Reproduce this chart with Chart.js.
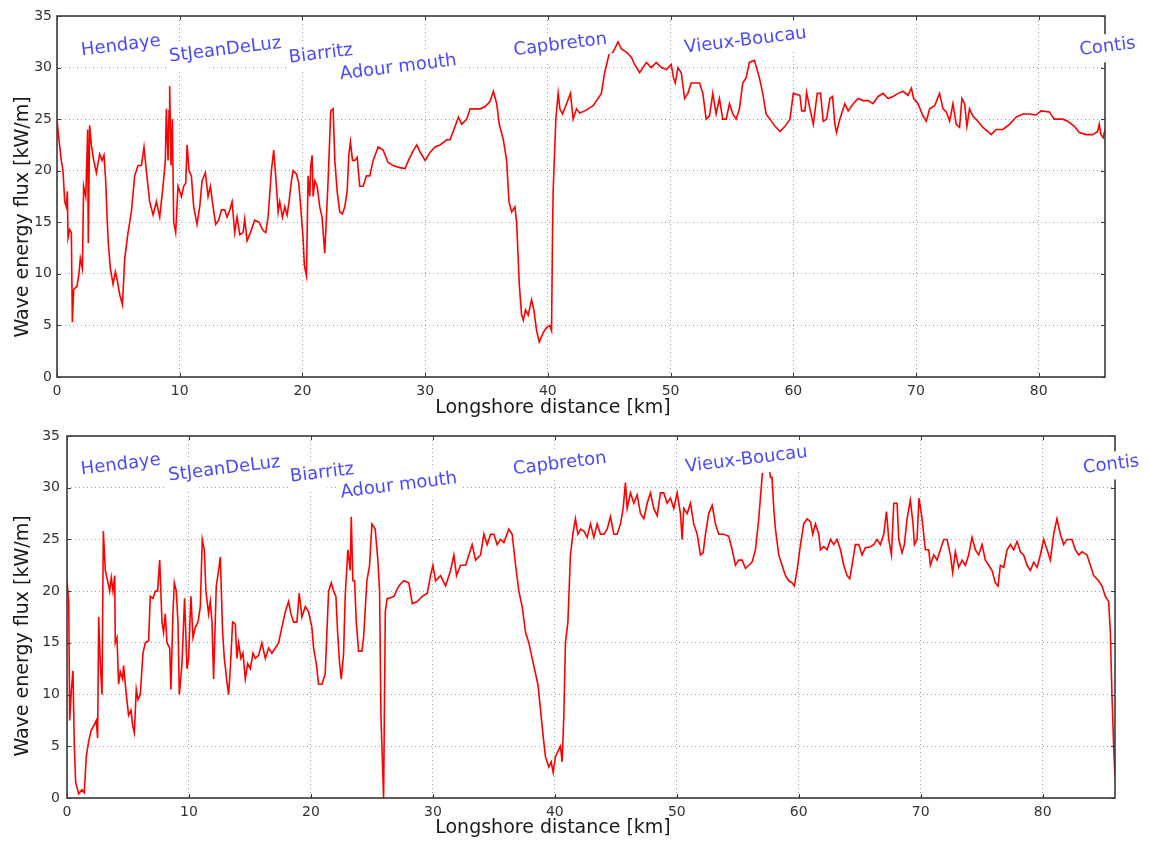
<!DOCTYPE html>
<html>
<head>
<meta charset="utf-8">
<script src="https://cdn.jsdelivr.net/npm/chart.js@4.4.1/dist/chart.umd.min.js"></script>
<style>
  html, body { margin: 0; padding: 0; background: #fff; }
  .panel { position: absolute; left: 0; width: 1150px; }
</style>
</head>
<body>
<div class="panel" style="top:0;height:420px"><canvas id="topChart" width="1150" height="420"></canvas></div>
<div class="panel" style="top:420px;height:421px"><canvas id="bottomChart" width="1150" height="421"></canvas></div>
<script>
// place names written along the coast
var placeNames = ['Hendaye', 'StJeanDeLuz', 'Biarritz', 'Adour mouth', 'Capbreton', 'Vieux-Boucau', 'Contis'];

// upper panel: longshore distance (km) and wave energy flux (kW/m)
var topKm = [0.00,0.16,0.35,0.49,0.63,0.76,0.84,0.90,1.03,1.17,1.25,1.36,1.63,1.79,1.90,2.07,2.17,2.34,2.42,2.50,2.55,2.66,2.80,2.99,3.21,3.48,3.67,3.83,3.97,4.08,4.18,4.35,4.57,4.76,4.89,5.11,5.33,5.52,5.79,6.06,6.33,6.60,6.88,7.09,7.28,7.55,7.83,8.10,8.37,8.64,8.83,8.91,9.05,9.13,9.18,9.29,9.40,9.51,9.67,9.86,10.14,10.33,10.49,10.60,10.76,10.95,11.14,11.41,11.63,11.82,12.09,12.31,12.50,12.72,12.93,13.18,13.40,13.67,13.86,14.08,14.27,14.48,14.67,14.89,15.16,15.30,15.49,15.76,16.11,16.47,16.79,17.01,17.20,17.47,17.66,17.88,18.02,18.15,18.37,18.56,18.75,18.91,19.10,19.24,19.51,19.70,19.86,20.05,20.16,20.33,20.46,20.60,20.68,20.79,20.87,21.01,21.20,21.41,21.60,21.82,22.09,22.31,22.50,22.64,22.83,23.04,23.26,23.45,23.64,23.78,23.91,24.08,24.27,24.46,24.67,24.95,25.22,25.49,25.76,26.17,26.58,26.98,27.39,27.93,28.37,28.64,29.05,29.32,29.59,30.00,30.41,30.81,31.22,31.76,32.03,32.44,32.71,32.98,33.39,33.66,34.07,34.47,34.88,35.28,35.56,35.83,36.04,36.37,36.64,36.83,37.05,37.32,37.45,37.51,37.67,37.86,38.00,38.18,38.40,38.67,38.86,39.08,39.30,39.62,39.89,40.16,40.30,40.38,40.43,40.65,40.84,40.98,41.19,41.52,41.84,42.06,42.33,42.60,43.01,43.28,43.69,44.09,44.36,44.63,44.99,45.31,45.72,45.99,46.40,46.80,47.07,47.48,48.02,48.43,48.83,49.24,49.65,50.05,50.24,50.38,50.60,50.87,51.14,51.41,51.68,52.09,52.36,52.63,52.90,53.17,53.44,53.71,53.98,54.25,54.53,54.80,55.07,55.34,55.61,55.88,56.15,56.42,56.83,57.24,57.51,57.78,58.10,58.51,58.92,59.32,59.73,60.00,60.54,60.68,60.95,61.08,61.36,61.63,61.95,62.22,62.44,62.71,62.98,63.20,63.39,63.52,63.79,64.20,64.47,64.88,65.28,65.69,66.10,66.50,66.91,67.32,67.72,68.13,68.54,68.94,69.35,69.62,69.81,70.16,70.57,70.84,71.11,71.52,71.92,72.20,72.47,72.74,73.01,73.28,73.55,73.74,73.96,74.15,74.36,74.63,75.04,75.45,75.85,76.12,76.53,77.07,77.62,78.16,78.70,79.24,79.78,80.19,80.87,81.27,81.95,82.36,82.90,83.31,83.85,84.39,84.80,84.93,85.07,85.26,85.40];
var topFlux = [24.9,23,21,20,17,16.5,18,13.5,14.3,14,5.3,8.5,8.8,10,11.5,10.5,18.5,17.5,20.5,24,13,24.4,22.5,21,19.8,21.6,21,21.5,19,15.5,13,10.5,9,10.2,9.5,8,7,11.5,14,16,19.5,20.5,20.5,22.3,20,17,15.7,17,15.5,18.5,21,26,21,25.8,28.2,20.5,25,15,14,18.5,17.5,18.5,18.8,22.5,20,19.5,16.5,14.8,16.5,19,19.8,17.5,18.5,16.5,14.8,15.2,16.2,16.2,15.5,16.2,17,14,15.5,13.8,14,15.3,13.2,14,15.2,15,14.2,14,15.5,20,22,18.5,16,17,15.5,16.5,15.7,17,19,20,19.7,18.8,16.5,13.5,10.8,9.8,19.5,17.5,20.5,21.5,17.5,19,18.5,16.5,15.5,12,19,25.8,26,21,18,16,15.8,16.5,18,21.5,22.8,21,21,21.3,18.5,18.5,19.5,19.5,21,22.3,22,20.8,20.5,20.3,20.2,21,22,22.5,21.8,21,21.8,22.3,22.5,23,23,24.3,25.2,24.5,25,26,26,26,26.2,26.7,27.7,26.5,24.5,23,21,17,16,16.5,15,13.5,9,6,5.5,6.5,6,7.5,6.5,4.5,3.4,4.3,4.8,5,4.5,14,18,25,27.5,26,25.5,26.5,27.5,25,26,25.6,25.8,26,26.3,27,27.5,29.5,31.3,31.5,32.5,31.8,31.5,31,30.3,29.5,30.5,30,30.5,30,29.8,30.3,29,28.5,30,29.5,27,27.5,28.5,28.5,28.5,27.5,25,25.3,27.5,25.5,27,25,25,26.5,25.5,25,26,28.5,29,30.5,30.7,29,27.5,25.5,25,24.3,23.8,24.3,25,27.5,27.3,25.8,25.8,27.6,26,24.5,27.5,27.5,24.8,25,27,27.2,24.5,23.7,25,26.5,25.8,26.5,27,26.8,26.8,26.5,27.2,27.5,27,27.2,27.5,27.7,27.3,28,27,26.5,25.3,24.8,26,26.3,27.5,26,25.7,24.8,26.5,24.5,24.2,27,26.5,24.3,26,25.3,24.8,24.2,23.8,23.5,24,24,24.5,25.2,25.5,25.5,25.4,25.8,25.7,25,25,24.8,24.3,23.7,23.5,23.5,23.8,24.5,23.5,23.2,24];

// lower panel
var bottomKm = [0.00,0.14,0.22,0.36,0.49,0.60,0.71,0.96,1.23,1.42,1.58,1.78,1.97,2.19,2.40,2.51,2.60,2.73,2.87,2.98,3.14,3.33,3.50,3.63,3.77,3.91,3.96,4.10,4.23,4.37,4.56,4.64,4.86,5.05,5.25,5.38,5.52,5.68,5.82,6.01,6.23,6.42,6.69,6.83,7.05,7.24,7.43,7.60,7.79,7.92,8.06,8.20,8.42,8.52,8.69,8.80,8.96,9.10,9.21,9.43,9.64,9.84,9.97,10.16,10.33,10.52,10.74,10.93,11.09,11.26,11.39,11.61,11.75,11.89,12.02,12.24,12.43,12.57,12.76,12.90,13.11,13.25,13.39,13.58,13.80,13.93,14.07,14.26,14.43,14.62,14.81,15.03,15.25,15.44,15.71,15.98,16.26,16.53,16.80,17.08,17.35,17.62,17.90,18.17,18.36,18.58,18.85,19.04,19.26,19.54,19.81,20.08,20.22,20.44,20.63,20.90,21.17,21.45,21.67,21.86,22.05,22.19,22.35,22.49,22.68,22.81,23.03,23.22,23.31,23.44,23.58,23.72,23.91,24.18,24.32,24.59,24.81,25.00,25.27,25.49,25.63,25.74,25.96,26.10,26.25,26.39,26.80,27.21,27.62,28.03,28.31,28.72,29.13,29.54,29.81,30.00,30.22,30.63,31.04,31.45,31.72,31.94,32.27,32.68,32.95,33.22,33.50,33.91,34.18,34.45,34.73,35.00,35.27,35.55,35.82,36.23,36.50,36.78,37.05,37.32,37.60,37.87,38.14,38.33,38.61,38.83,39.04,39.23,39.51,39.70,39.86,40.05,40.33,40.46,40.60,40.74,40.87,41.07,41.28,41.50,41.69,41.89,42.10,42.38,42.65,42.92,43.20,43.47,43.74,44.02,44.29,44.56,44.84,45.11,45.38,45.60,45.79,45.93,46.20,46.48,46.75,47.02,47.30,47.57,47.84,48.11,48.39,48.66,48.93,49.21,49.48,49.75,50.03,50.30,50.44,50.57,50.85,51.12,51.39,51.67,51.94,52.16,52.35,52.62,52.90,53.17,53.44,53.85,54.26,54.54,54.81,55.08,55.36,55.63,55.90,56.17,56.45,56.72,56.99,57.20,57.45,57.68,57.81,57.95,58.09,58.36,58.63,58.91,59.18,59.45,59.64,59.86,60.14,60.41,60.68,60.96,61.15,61.37,61.64,61.78,62.05,62.32,62.60,62.87,63.14,63.42,63.69,63.96,64.18,64.37,64.64,64.92,65.19,65.46,65.87,66.15,66.42,66.69,66.97,67.19,67.38,67.60,67.79,68.06,68.20,68.47,68.66,68.88,69.15,69.37,69.48,69.70,69.86,70.11,70.38,70.66,70.79,71.07,71.34,71.61,71.89,72.16,72.43,72.62,72.84,73.11,73.39,73.66,73.93,74.21,74.48,74.75,75.03,75.30,75.57,75.85,76.12,76.34,76.53,76.80,77.08,77.35,77.62,77.90,78.17,78.44,78.72,78.99,79.26,79.54,79.81,80.08,80.36,80.63,80.90,81.17,81.45,81.72,81.99,82.40,82.68,82.95,83.22,83.63,83.91,84.18,84.59,84.86,85.14,85.41,85.55,85.68,85.82,85.93];
var bottomFlux = [21,19,7.5,10.5,12.3,5,1.5,0.4,0.8,0.5,4,5.5,6.5,7,7.5,5.8,17.5,13,10,25.8,22,21,20,21.3,20,21.5,15,15.5,11,12.2,11.5,12.8,10,8,8.5,7,6.3,10.5,9.5,10,14,15,15.2,19.5,19.3,20,20,23,17,16,17.8,15,14.5,10.5,18,20.8,20,17,10,13,19.3,12.5,13.5,19.5,15.5,16.5,17,18.5,25,24,20,17.8,19,17,11.5,20.5,22,23.3,16,13.5,11.3,10,12.5,17,16.8,13.5,15,13.5,14,11.5,13,12.5,14,13.5,13.8,15,13.5,14.5,14,14.5,15,16.5,18,19,17.8,17,17,19.8,17.5,18.5,18,16.5,14.5,13,11,11,12,20,20.8,20,19.5,16,13,11.5,14,19.5,24,22,27.2,21,21,17,14.2,14.2,15.5,21,22.5,26.5,26,23,20,8,0,18,19.3,19.3,19.5,20.5,21,20.8,18.8,19,19.5,19.8,21.5,22.5,21,21.5,20.5,22,23.5,21.5,22.5,22.5,23.5,24.5,23,23.5,25.5,24.5,25.5,25.5,24.5,25,24.7,26,25.5,22.5,20,18.5,16,15,13.5,12.5,11,8.5,6,4,3,3.5,2.5,4,4.7,5,3.5,8,15,17,23.5,25.7,27,25.5,26,25.8,25.2,26.5,25.2,26.5,25.5,25.5,26,27.2,25.5,25.5,26.5,28,30.5,28,29.5,28.5,29.3,27.5,27,28.5,29.5,28,27.3,29.5,29.5,28.5,29,28,29.5,27.5,25,28,27.5,28.5,26.5,25.5,23.5,23.7,25.5,27.5,28.3,26.5,25.5,25.5,25.3,24,22.5,23,23,22.2,22.5,22.8,24,27,31,33.5,33,31,31,28,26,23.5,22.5,21.5,21,20.8,20.5,22,24.5,26.5,27,26.7,25.5,26.5,25.5,24,24.3,24,25,24.5,25,24,22.5,21.5,21.2,22.5,24.5,24.5,23.5,24.2,24.3,24.5,25,24.5,25.5,27.7,25,23.5,28.5,28.5,25,23.7,24.5,27,28.8,26.5,24.5,25,29,27,24,24,22.5,23.5,23,24,25,25,23.5,21.8,23.8,22.3,23,22.5,23.5,25.2,24,23.5,24.5,23,22.5,22,20.8,20.5,22.5,22.3,24,24.5,24,24.8,23.8,23.5,22.5,22,22.8,22.3,23.5,25,24,23,25.5,27,25.5,24.5,25,25,24,23.5,23.8,23.5,22.5,21.5,21,20.5,19.5,19,16,10,5,2];

// where each place name sits, in data units of each panel
var topLabelKm = [5.2, 13.7, 21.5, 27.8, 41.0, 56.1, 85.6];
var topLabelFlux = [32.2, 31.8, 31.4, 30.1, 32.3, 32.7, 32.1];
var bottomLabelKm = [4.4, 12.9, 20.9, 27.2, 40.4, 55.7, 85.6];
var bottomLabelFlux = [32.3, 31.9, 31.5, 30.3, 32.4, 32.8, 32.3];

var FONT = "'DejaVu Sans', sans-serif";

var decorPlugin = {
    id: 'decor',
    afterDatasetsDraw: function (chart, args, opts) {
        var ctx = chart.ctx;
        var a = chart.chartArea;
        var xs = chart.scales.x;
        var ys = chart.scales.y;

        // frame and inward ticks like matplotlib
        ctx.save();
        ctx.strokeStyle = '#3a3a3a';
        ctx.lineWidth = 1;
        ctx.beginPath();
        xs.ticks.forEach(function (t) {
            var px = Math.round(xs.getPixelForValue(t.value)) + 0.5;
            ctx.moveTo(px, a.bottom); ctx.lineTo(px, a.bottom - 4);
            ctx.moveTo(px, a.top); ctx.lineTo(px, a.top + 4);
        });
        ys.ticks.forEach(function (t) {
            var py = Math.round(ys.getPixelForValue(t.value)) + 0.5;
            ctx.moveTo(a.left, py); ctx.lineTo(a.left + 4, py);
            ctx.moveTo(a.right, py); ctx.lineTo(a.right - 4, py);
        });
        ctx.stroke();
        ctx.lineWidth = 1.6;
        ctx.strokeRect(a.left, a.top, a.right - a.left, a.bottom - a.top);
        ctx.restore();

        // place names with a white box behind them
        ctx.save();
        ctx.font = '18px ' + FONT;
        ctx.textAlign = 'center';
        ctx.textBaseline = 'middle';
        placeNames.forEach(function (name, i) {
            var px = xs.getPixelForValue(opts.labelKm[i]);
            var py = ys.getPixelForValue(opts.labelFlux[i]);
            var w = ctx.measureText(name).width;
            ctx.save();
            ctx.translate(px, py);
            ctx.rotate(-7 * Math.PI / 180);
            ctx.fillStyle = '#ffffff';
            ctx.fillRect(-w / 2 - 3, -12, w + 6, 28);
            ctx.fillStyle = 'rgba(0, 0, 255, 0.72)';
            ctx.fillText(name, 0, 1);
            ctx.restore();
        });
        ctx.restore();
    },
    afterDraw: function (chart, args, opts) {
        var ctx = chart.ctx;
        ctx.save();
        ctx.fillStyle = '#1a1a1a';
        ctx.font = '19px ' + FONT;
        ctx.textAlign = 'center';
        ctx.textBaseline = 'middle';
        ctx.fillText('Longshore distance [km]', opts.xTitle[0], opts.xTitle[1]);
        ctx.translate(opts.yTitle[0], opts.yTitle[1]);
        ctx.rotate(-Math.PI / 2);
        ctx.fillText('Wave energy flux [kW/m]', 0, 0);
        ctx.restore();
    }
};

function drawPanel(canvasId, km, flux, cfg) {
    var points = km.map(function (x, i) { return {x: x, y: flux[i]}; });
    return new Chart(document.getElementById(canvasId), {
        type: 'line',
        data: {
            datasets: [{
                data: points,
                borderColor: '#ff0000',
                borderWidth: 1.6,
                pointRadius: 0,
                tension: 0
            }]
        },
        options: {
            responsive: false,
            animation: false,
            layout: {padding: {left: 0, top: cfg.top, right: cfg.right, bottom: 0}},
            plugins: {
                legend: {display: false},
                tooltip: {enabled: false},
                decor: {
                    labelKm: cfg.labelKm,
                    labelFlux: cfg.labelFlux,
                    xTitle: cfg.xTitle,
                    yTitle: cfg.yTitle
                }
            },
            scales: {
                x: {
                    type: 'linear',
                    min: 0,
                    max: cfg.xMax,
                    ticks: {stepSize: 10, color: '#333', padding: 6, font: {family: FONT, size: 14}, maxRotation: 0},
                    grid: {color: '#a0a0a0', lineWidth: 1, drawTicks: false},
                    border: {display: false, dash: [1, 3]},
                    afterBuildTicks: function (scale) {
                        scale.ticks = scale.ticks.filter(function (t) { return t.value % 10 === 0; });
                    },
                    afterFit: function (scale) { scale.height = cfg.xAxisHeight; }
                },
                y: {
                    min: 0,
                    max: 35,
                    ticks: {stepSize: 5, color: '#333', padding: cfg.yPad, font: {family: FONT, size: 14}},
                    grid: {color: '#a0a0a0', lineWidth: 1, drawTicks: false},
                    border: {display: false, dash: [1, 3]},
                    afterFit: function (scale) { scale.width = cfg.yAxisWidth; }
                }
            }
        },
        plugins: [decorPlugin]
    });
}

drawPanel('topChart', topKm, topFlux, {
    xMax: 85.4, top: 16, right: 45, xAxisHeight: 43, yAxisWidth: 57, yPad: 5,
    labelKm: topLabelKm, labelFlux: topLabelFlux,
    xTitle: [553, 408], yTitle: [23, 217]
});

drawPanel('bottomChart', bottomKm, bottomFlux, {
    xMax: 85.93, top: 16, right: 35, xAxisHeight: 43, yAxisWidth: 67, yPad: 7,
    labelKm: bottomLabelKm, labelFlux: bottomLabelFlux,
    xTitle: [553, 408], yTitle: [23, 216]
});
</script>
</body>
</html>
